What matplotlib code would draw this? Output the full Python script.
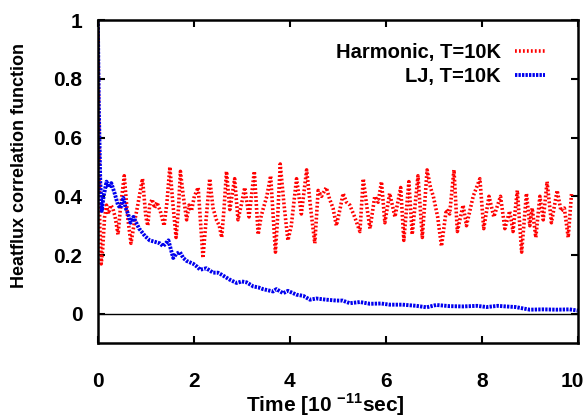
import numpy as np
import matplotlib
matplotlib.use('Agg')
import matplotlib.pyplot as plt
import matplotlib.transforms as mtransforms

plt.rcParams['font.family'] = ['Liberation Sans', 'DejaVu Sans']
plt.rcParams['font.weight'] = 'bold'
plt.rcParams['mathtext.fontset'] = 'custom'
plt.rcParams['mathtext.bf'] = 'Liberation Sans:bold'
plt.rcParams['mathtext.rm'] = 'Liberation Sans:bold'

# Harmonic, T=10K (rouge)
t_harm = [0.0, 0.02, 0.04, 0.07, 0.10, 0.14, 0.18, 0.22, 0.27, 0.31, 0.36, 0.42, 0.47, 0.55,
          0.62, 0.69, 0.76, 0.82, 0.93, 1.00, 1.04, 1.08, 1.13, 1.18, 1.23, 1.30, 1.38, 1.44,
          1.50, 1.56, 1.63, 1.68, 1.72, 1.78, 1.85, 1.90, 1.95, 2.01, 2.09, 2.14, 2.19, 2.26,
          2.33, 2.40, 2.47, 2.53, 2.58, 2.63, 2.68, 2.75, 2.85, 2.92, 3.00, 3.06, 3.15, 3.20,
          3.26, 3.34, 3.40, 3.44, 3.52, 3.60, 3.70, 3.75, 3.80, 3.88, 3.96, 4.03, 4.14, 4.24,
          4.35, 4.44, 4.52, 4.59, 4.66, 4.76, 4.83, 4.90, 4.97, 5.05, 5.11, 5.18, 5.25, 5.35,
          5.46, 5.53, 5.60, 5.67, 5.77, 5.84, 5.91, 5.98, 6.08, 6.19, 6.31, 6.375, 6.48, 6.55,
          6.67, 6.76, 6.86, 6.93, 6.99, 7.08, 7.16, 7.26, 7.33, 7.42, 7.49, 7.61, 7.68, 7.82,
          7.96, 8.04, 8.15, 8.25, 8.39, 8.48, 8.58, 8.65, 8.74, 8.83, 8.93, 9.00, 9.05, 9.125,
          9.21, 9.28, 9.36, 9.45, 9.57, 9.65, 9.72, 9.80, 9.87]
c_harm = [1.0, 0.6, 0.3, 0.17, 0.22, 0.33, 0.37, 0.34, 0.37, 0.36, 0.33, 0.27, 0.36, 0.47,
          0.33, 0.24, 0.31, 0.36, 0.46, 0.33, 0.30, 0.37, 0.39, 0.36, 0.38, 0.35, 0.30, 0.38,
          0.50, 0.38, 0.26, 0.36, 0.485, 0.40, 0.32, 0.37, 0.35, 0.40, 0.43, 0.31, 0.19, 0.33,
          0.46, 0.36, 0.32, 0.30, 0.26, 0.36, 0.485, 0.355, 0.46, 0.32, 0.38, 0.43, 0.33, 0.40,
          0.485, 0.27, 0.33, 0.355, 0.40, 0.47, 0.21, 0.34, 0.51, 0.37, 0.25, 0.30, 0.46, 0.34,
          0.49, 0.35, 0.24, 0.42, 0.40, 0.43, 0.39, 0.36, 0.30, 0.36, 0.41, 0.38, 0.37, 0.33,
          0.28, 0.46, 0.37, 0.29, 0.40, 0.38, 0.45, 0.31, 0.41, 0.33, 0.43, 0.25, 0.45, 0.27,
          0.47, 0.26, 0.49, 0.43, 0.40, 0.33, 0.23, 0.355, 0.34, 0.49, 0.28, 0.37, 0.30, 0.40,
          0.46, 0.29, 0.40, 0.33, 0.40, 0.29, 0.35, 0.28, 0.42, 0.21, 0.41, 0.30, 0.36, 0.26,
          0.40, 0.32, 0.45, 0.31, 0.42, 0.35, 0.36, 0.26, 0.41]

# LJ, T=10K (azul)
t_lj = [0.0, 0.02, 0.05, 0.08, 0.12, 0.18, 0.23, 0.28, 0.35, 0.42, 0.47, 0.53, 0.58, 0.63,
        0.68, 0.74, 0.80, 0.86, 0.91, 0.98, 1.08, 1.19, 1.29, 1.36, 1.47, 1.57, 1.64, 1.71,
        1.78, 1.85, 1.99, 2.07, 2.13, 2.26, 2.40, 2.50, 2.58, 2.75, 2.89, 3.00, 3.10, 3.24,
        3.34, 3.44, 3.65, 3.72, 3.86, 3.96, 4.14, 4.28, 4.42, 4.55, 4.76, 4.97, 5.10, 5.25,
        5.46, 5.67, 5.90, 6.08, 6.35, 6.64, 6.85, 7.05, 7.33, 7.61, 7.90, 8.10, 8.33, 8.50,
        8.70, 9.00, 9.28, 9.56, 9.83, 10.0]
c_lj = [1.0, 0.7, 0.45, 0.35, 0.40, 0.45, 0.43, 0.445, 0.41, 0.37, 0.36, 0.395, 0.36, 0.34,
        0.31, 0.33, 0.31, 0.29, 0.28, 0.265, 0.25, 0.245, 0.24, 0.23, 0.25, 0.19, 0.205, 0.21,
        0.19, 0.18, 0.17, 0.16, 0.15, 0.155, 0.14, 0.14, 0.133, 0.116, 0.105, 0.11, 0.107, 0.093,
        0.09, 0.084, 0.076, 0.084, 0.07, 0.078, 0.065, 0.061, 0.048, 0.052, 0.048, 0.045, 0.045, 0.036,
        0.04, 0.034, 0.035, 0.031, 0.031, 0.027, 0.022, 0.030, 0.026, 0.025, 0.027, 0.023, 0.027, 0.025,
        0.023, 0.014, 0.015, 0.014, 0.015, 0.011]

x_ticks = [0, 2, 4, 6, 8, 10]
y_ticks = [0, 0.2, 0.4, 0.6, 0.8, 1]
y_labels = ['0', '0.2', '0.4', '0.6', '0.8', '1']

fig = plt.figure(figsize=(5.86, 4.2), dpi=100)
ax = fig.add_axes([0.167, 0.183, 0.819, 0.769])

ax.plot(t_harm, c_harm, color='#ff0000', lw=2.6, linestyle=(0, (0.5, 0.6)),
        label='Harmonic, T=10K')
ax.plot(t_lj, c_lj, color='#0000ee', lw=2.8, linestyle=(0, (0.6, 0.3)),
        label='LJ, T=10K')
ax.axhline(0, color='black', lw=1.0)

ax.set_xlim(0, 10)
ax.set_ylim(-0.1, 1)
ax.set_xticks(x_ticks)
ax.set_yticks(y_ticks)
ax.set_yticklabels(y_labels)
ax.tick_params(direction='in', length=5, width=1.5, top=True, right=True,
               labelsize=15)
ax.tick_params(axis='x', pad=21)
ax.tick_params(axis='y', pad=11)
for s in ax.spines.values():
    s.set_linewidth(1.8)

# le "10" est un peu décalé vers la gauche
fig.canvas.draw()
lab10 = ax.get_xticklabels()[-1]
lab10.set_transform(lab10.get_transform() + mtransforms.ScaledTranslation(-4 / 72, 0, fig.dpi_scale_trans))

ax.set_xlabel(r'Time [10 $^{\mathbf{-11}}$sec]', fontsize=15, fontweight='bold')
ax.xaxis.set_label_coords(0.475, -0.15)
ax.set_ylabel('Heatflux correlation function', fontsize=13, fontweight='bold')
ax.yaxis.set_label_coords(-0.145, 0.55)

leg = ax.legend(loc='upper right', frameon=False, markerfirst=False, fontsize=14.5,
                handlelength=1.5, borderaxespad=0.5, labelspacing=0.25,
                handletextpad=0.7, bbox_to_anchor=(0.97, 0.985))
for t in leg.get_texts():
    t.set_fontweight('bold')

fig.savefig('out.png', dpi=100)
